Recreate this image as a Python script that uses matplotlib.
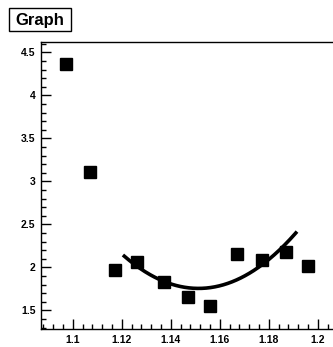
import numpy as np
import matplotlib
matplotlib.use("Agg")
import matplotlib.pyplot as plt
from matplotlib.patches import Rectangle
from matplotlib.ticker import MultipleLocator, FixedFormatter, FixedLocator

# Measured points
x_vals = [1.097, 1.107, 1.117, 1.126, 1.137, 1.147, 1.156, 1.167, 1.177, 1.187, 1.196]
y_vals = [4.36, 3.11, 1.97, 2.06, 1.83, 1.66, 1.55, 2.15, 2.09, 2.18, 2.01]

# Quadratic fit: y = p0 + p1*(x - xc) + p2*(x - xc)^2
fit_center = 1.15
fit_params = [1.7556, -1.05, 408.9]
fit_range = [1.121, 1.191]

x_ticks = [1.10, 1.12, 1.14, 1.16, 1.18, 1.20]
x_tick_labels = ["1.1", "1.12", "1.14", "1.16", "1.18", "1.2"]
y_ticks = [1.5, 2.0, 2.5, 3.0, 3.5, 4.0, 4.5]
y_tick_labels = ["1.5", "2", "2.5", "3", "3.5", "4", "4.5"]

plt.rcParams["font.family"] = ["Liberation Sans", "DejaVu Sans"]

W, H = 333, 347
fig = plt.figure(figsize=(W / 100, H / 100), dpi=100)
ax = fig.add_axes([41 / W, 18 / H, 294 / W, 287 / H])

ax.plot(x_vals, y_vals, linestyle="none", marker="s", markersize=9,
        color="black", zorder=3)

xf = np.linspace(fit_range[0], fit_range[1], 200)
u = xf - fit_center
yf = fit_params[0] + fit_params[1] * u + fit_params[2] * u ** 2
ax.plot(xf, yf, color="black", linewidth=2.6, zorder=2)

ax.set_xlim(1.087, 1.207)
ax.set_ylim(1.283, 4.62)

ax.xaxis.set_major_locator(FixedLocator(x_ticks))
ax.xaxis.set_major_formatter(FixedFormatter(x_tick_labels))
ax.xaxis.set_minor_locator(MultipleLocator(0.004))
ax.yaxis.set_major_locator(FixedLocator(y_ticks))
ax.yaxis.set_major_formatter(FixedFormatter(y_tick_labels))
ax.yaxis.set_minor_locator(MultipleLocator(0.1))

ax.tick_params(which="both", direction="in", top=False, right=False,
               width=1.0, color="black")
ax.tick_params(which="major", length=7, labelsize=7.5, pad=4)
ax.tick_params(which="minor", length=3.5)
for lbl in ax.get_xticklabels() + ax.get_yticklabels():
    lbl.set_fontweight("bold")

for s in ax.spines.values():
    s.set_linewidth(1.0)

# Title box in the upper-left corner
fig.patches.append(Rectangle((8.5 / W, 1 - 30.5 / H), 62 / W, 23 / H,
                             transform=fig.transFigure, facecolor="white",
                             edgecolor="black", linewidth=1.0))
fig.text(39.5 / W, 1 - 25.5 / H, "Graph", fontsize=12, fontweight="bold",
         ha="center", va="baseline")

fig.savefig("out.png", dpi=100)
